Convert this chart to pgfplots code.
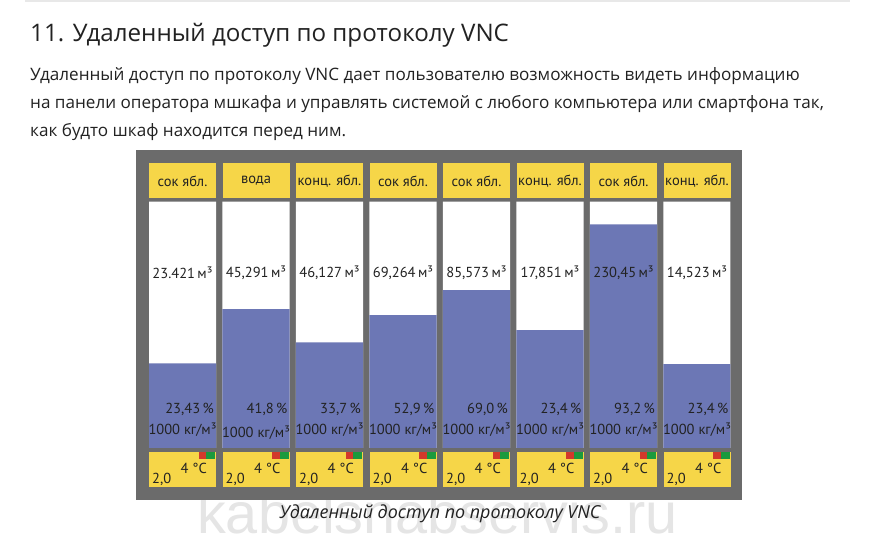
\documentclass[border=0pt]{standalone}
\usepackage{pgfplots}
\pgfplotsset{compat=1.18}
\usepackage{pgfplotstable}
\usepackage{graphicx}
\usepackage{fontspec}
\setmainfont{Open Sans}
\newfontfamily\tankfont{PT Sans}
\newfontfamily\markfont{Liberation Sans}

\definecolor{panelgray}{HTML}{6B6B6B}
\definecolor{tankyellow}{HTML}{F6D648}
\definecolor{tankblue}{HTML}{6C77B5}
\definecolor{txt}{HTML}{222222}
\definecolor{ledred}{HTML}{D2392B}
\definecolor{ledgreen}{HTML}{1A9A3D}

% fill level of each tank, % of tank height (as drawn)
\pgfplotstableread{
x level
1 34.4
2 56.4
3 42.9
4 53.9
5 64.1
6 47.9
7 90.8
8 34.1
}\levels

\begin{document}
\begin{tikzpicture}[x=1pt,y=1pt]
\fill[white] (0,0) rectangle (883,540);
\draw[line width=2pt, black!9] (25,539) -- (850,539);

\node[anchor=base west, inner sep=0, text=txt] at (30,498)
  {\fontsize{24.15}{28}\selectfont 11. Удаленный доступ по протоколу VNC};
\begin{scope}[every node/.style={anchor=base west, inner sep=0, text=txt,
    font=\fontsize{17.1}{20}\selectfont}]
\node at (30,459) {Удаленный доступ по протоколу VNC дает пользователю возможность видеть информацию};
\node at (30,431) {на панели оператора мшкафа и управлять системой с любого компьютера или смартфона так,};
\node at (30,403) {как будто шкаф находится перед ним.};
\end{scope}

% watermark
\node[anchor=base west, inner sep=0, text=black!10] at (197,7)
  {\resizebox{480pt}{!}{\markfont kabelsnabservis.ru}};

% panel
\fill[panelgray] (136,40) rectangle (742,390);

\begin{axis}[
    at={(145.75pt,92pt)}, anchor=south west,
    width=588pt, height=246.3pt, scale only axis,
    hide axis, xmin=0.5, xmax=8.5, ymin=0, ymax=100,
    ybar, bar width=0.9116, bar shift=0pt,
]
\addplot[fill=white, draw=none] coordinates {(1,100) (2,100) (3,100) (4,100) (5,100) (6,100) (7,100) (8,100)};
\addplot[fill=tankblue, draw=none] table[x=x, y=level] {\levels};
\end{axis}

\foreach \i/\name/\vol/\pct/\dy in {
    0/{сок ябл.}/{23.421}/{23,43}/0,
    1/{вода}/{45,291}/{41,8}/-2.5,
    2/{конц. ябл.}/{46,127}/{33,7}/0,
    3/{сок ябл.}/{69,264}/{52,9}/0,
    4/{сок ябл.}/{85,573}/{69,0}/0,
    5/{конц. ябл.}/{17,851}/{23,4}/0,
    6/{сок ябл.}/{230,45}/{93,2}/0,
    7/{конц. ябл.}/{14,523}/{23,4}/0} {
  \pgfmathsetmacro\L{149+73.5*\i}
  \pgfmathsetmacro\C{\L+33.5}
  % header
  \fill[tankyellow] (\L,341.5) rectangle ++(67,35.5);
  \node[text=txt, font=\tankfont\fontsize{14.5}{16}\selectfont] at (\C,359) {\name};
  % tank texts
  \node[text=txt, font=\tankfont\fontsize{14.5}{16}\selectfont] at (\C,267) {\vol\,м³};
  \node[anchor=east, inner sep=0, text=txt, font=\tankfont\fontsize{14.5}{16}\selectfont] at (\L+65,131) {\pct\,\%};
  \node[text=txt, font=\tankfont\fontsize{14.5}{16}\selectfont] at (\C,110+\dy) {1000 кг/м³};
  % bottom box
  \fill[tankyellow] (\L,53) rectangle ++(67,35);
  \fill[ledred] (\L+49.7,80.7) rectangle ++(7.3,7.3);
  \fill[ledgreen] (\L+57,80.7) rectangle ++(9.3,7.3);
  \node[anchor=east, inner sep=0, text=txt, font=\tankfont\fontsize{14.5}{16}\selectfont] at (\L+58,72) {4 °C};
  \node[anchor=west, inner sep=0, text=txt, font=\tankfont\fontsize{14.5}{16}\selectfont] at (\L+3,61) {2,0};
}

\node[text=txt, font=\itshape\fontsize{17.9}{20}\selectfont] at (440,26) {Удаленный доступ по протоколу VNC};
\end{tikzpicture}
\end{document}
